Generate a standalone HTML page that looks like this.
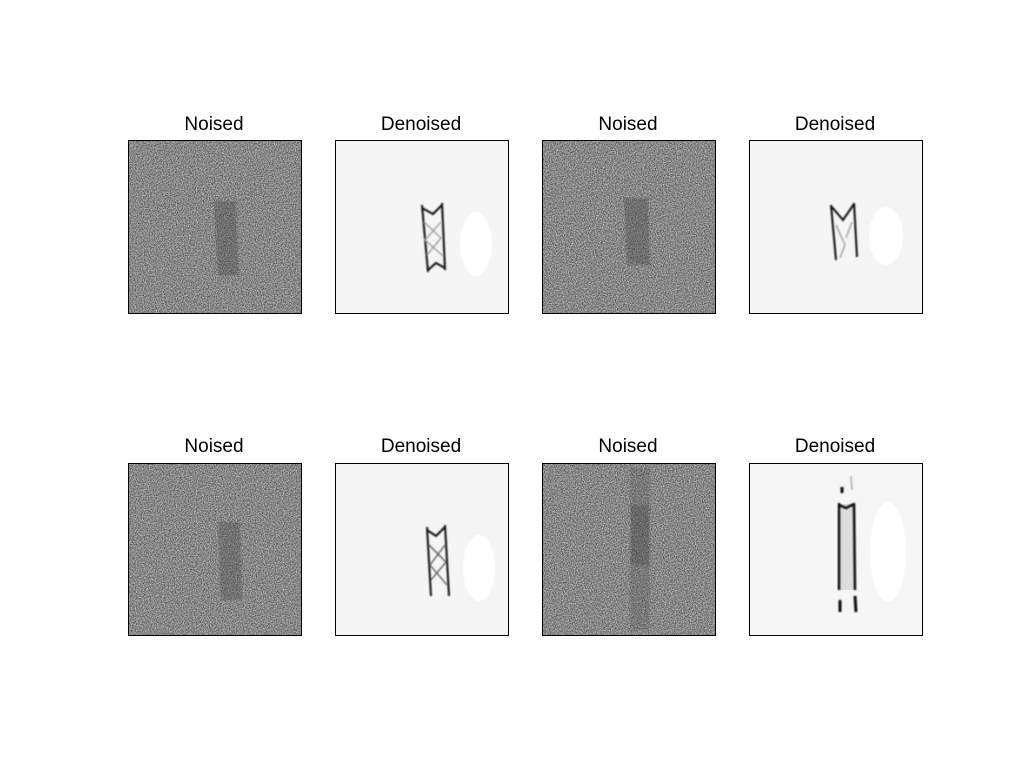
<!DOCTYPE html>
<html><head><meta charset="utf-8"><style>
html,body{margin:0;padding:0;background:#fff;}
svg{display:block;}
text{font-family:"Liberation Sans","DejaVu Sans",sans-serif;font-size:19px;fill:#000;}
</style></head><body>
<svg width="1024" height="768" viewBox="0 0 1024 768">
<defs>
<filter id="noise" x="0" y="0" width="100%" height="100%">
<feTurbulence type="fractalNoise" baseFrequency="0.9" numOctaves="2" seed="3" result="t"/>
<feColorMatrix type="matrix" values="0 0 0 0 0  0 0 0 0 0  0 0 0 0 0  1.6 0 0 0 -0.45" in="t" result="a"/>
<feComposite in="a" in2="SourceGraphic" operator="over"/>
</filter>
<filter id="noise2" x="0" y="0" width="100%" height="100%">
<feTurbulence type="fractalNoise" baseFrequency="0.85" numOctaves="2" seed="9" result="t"/>
<feColorMatrix type="matrix" values="0 0 0 0 1  0 0 0 0 1  0 0 0 0 1  1.6 0 0 0 -0.6" in="t"/>
</filter>
<filter id="blur"><feGaussianBlur stdDeviation="0.8"/></filter>
</defs>

<g>
<text x="214" y="130" text-anchor="middle">Noised</text>
<rect x="128" y="140" width="173" height="173" fill="#858585" filter="url(#noise)"/>
<rect x="128" y="140" width="173" height="173" fill="#fff" filter="url(#noise2)" opacity="0.9"/>
<polygon points="214,201 236,201 239,275 218,276" fill="#3a3a3a" opacity="0.3" filter="url(#blur)"/>
<rect x="128.5" y="140.5" width="173" height="173" fill="none" stroke="#000"/>
</g>
<g>
<text x="421" y="130" text-anchor="middle">Denoised</text>
<rect x="335" y="140" width="173" height="173" fill="#f5f5f5"/>
<ellipse cx="476" cy="244" rx="16" ry="32" fill="#fff"/>
<g filter="url(#blur)" stroke="#111" fill="none" stroke-width="2">
<path d="M422,205 L428,272 M442,203 L445,270 M422,208 L433,214 L442,205 M428,270 L436,263 L445,268"/>
<path d="M424,222 L441,238 L427,255 M441,222 L425,240 L443,256" stroke="#999" stroke-width="1.3"/>
</g>
<rect x="335.5" y="140.5" width="173" height="173" fill="none" stroke="#000"/>
</g>
<g>
<text x="628" y="130" text-anchor="middle">Noised</text>
<rect x="542" y="140" width="173" height="173" fill="#858585" filter="url(#noise)"/>
<rect x="542" y="140" width="173" height="173" fill="#fff" filter="url(#noise2)" opacity="0.9"/>
<polygon points="624,198 648,198 650,265 627,265" fill="#3a3a3a" opacity="0.3" filter="url(#blur)"/>
<rect x="542.5" y="140.5" width="173" height="173" fill="none" stroke="#000"/>
</g>
<g>
<text x="835" y="130" text-anchor="middle">Denoised</text>
<rect x="749" y="140" width="173" height="173" fill="#f5f5f5"/>
<ellipse cx="886" cy="236" rx="17" ry="29" fill="#fff"/>
<g filter="url(#blur)" stroke="#111" fill="none" stroke-width="2">
<path d="M831,205 L836,260 M854,203 L857,257 M831,206 L843,220 L854,204"/>
<path d="M836,225 L845,245 L840,258 M852,222 L846,238" stroke="#999" stroke-width="1.3"/>
</g>
<rect x="749.5" y="140.5" width="173" height="173" fill="none" stroke="#000"/>
</g>

<g>
<text x="214" y="452" text-anchor="middle">Noised</text>
<rect x="128" y="463" width="173" height="172" fill="#858585" filter="url(#noise)"/>
<rect x="128" y="463" width="173" height="172" fill="#fff" filter="url(#noise2)" opacity="0.9"/>
<polygon points="218,522 240,522 242,600 221,600" fill="#3a3a3a" opacity="0.28" filter="url(#blur)"/>
<rect x="128.5" y="463.5" width="173" height="172" fill="none" stroke="#000"/>
</g>
<g>
<text x="421" y="452" text-anchor="middle">Denoised</text>
<rect x="335" y="463" width="173" height="172" fill="#f5f5f5"/>
<ellipse cx="479" cy="568" rx="16" ry="33" fill="#fff"/>
<g filter="url(#blur)" stroke="#111" fill="none" stroke-width="2">
<path d="M427,527 L431,596 M445,525 L449,596 M427,530 L436,536 L445,527"/>
<path d="M429,545 L446,562 L431,580 M445,545 L430,565 L447,585" stroke="#555" stroke-width="1.3"/>
</g>
<rect x="335.5" y="463.5" width="173" height="172" fill="none" stroke="#000"/>
</g>
<g>
<text x="628" y="452" text-anchor="middle">Noised</text>
<rect x="542" y="463" width="173" height="172" fill="#858585" filter="url(#noise)"/>
<rect x="542" y="463" width="173" height="172" fill="#fff" filter="url(#noise2)" opacity="0.9"/>
<rect x="630" y="468" width="20" height="162" fill="#3a3a3a" opacity="0.18" filter="url(#blur)"/>
<rect x="631" y="505" width="18" height="60" fill="#2a2a2a" opacity="0.2" filter="url(#blur)"/>
<rect x="542.5" y="463.5" width="173" height="172" fill="none" stroke="#000"/>
</g>
<g>
<text x="835" y="452" text-anchor="middle">Denoised</text>
<rect x="749" y="463" width="173" height="172" fill="#f6f6f6"/>
<ellipse cx="888" cy="552" rx="18" ry="50" fill="#fff"/>
<rect x="839" y="504" width="16" height="86" fill="#ddd"/>
<g filter="url(#blur)" stroke="#111" fill="none" stroke-width="2.5">
<path d="M839,503 L839,590 M854,503 L855,590 M839,505 L846,508 L854,504"/>
<path d="M840,600 L840,612 M855,596 L856,612 M842,487 L842,493" stroke-width="3"/>
<path d="M851,476 L852,490" stroke="#aaa" stroke-width="1.5"/>
</g>
<rect x="749.5" y="463.5" width="173" height="172" fill="none" stroke="#000"/>
</g>
</svg>
</body></html>
